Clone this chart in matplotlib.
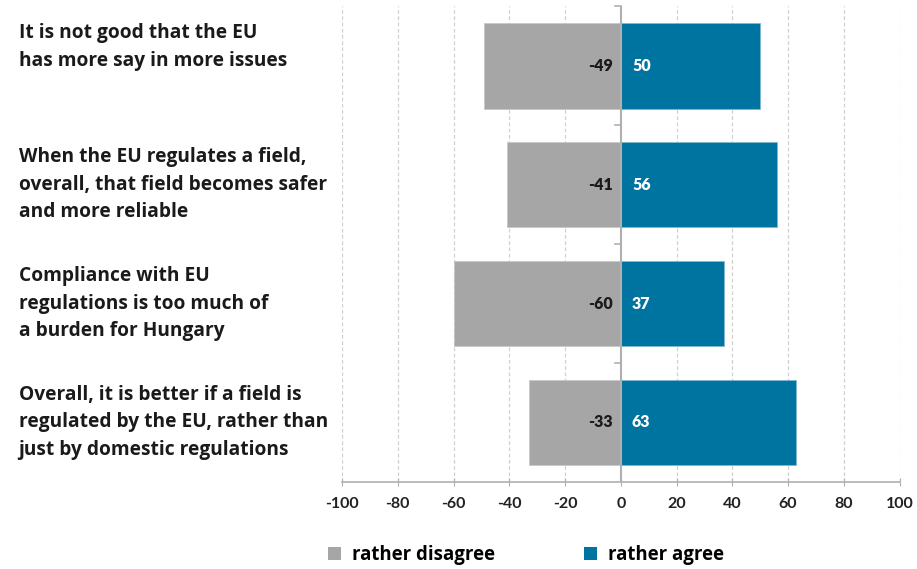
import matplotlib
matplotlib.use("Agg")
import matplotlib.pyplot as plt
from matplotlib.patches import Patch

# data
statements = [
    "It is not good that the EU\nhas more say in more issues",
    "When the EU regulates a field,\noverall, that field becomes safer\nand more reliable",
    "Compliance with EU\nregulations is too much of\na burden for Hungary",
    "Overall, it is better if a field is\nregulated by the EU, rather than\njust by domestic regulations",
]
disagree = [-49, -41, -60, -33]
agree = [50, 56, 37, 63]
xticks = list(range(-100, 101, 20))

COLOR_DIS = "#A6A6A6"
COLOR_AGR = "#0074A0"
AXIS_GREY = "#B0B0B0"
LABEL_FONT = ["Open Sans", "DejaVu Sans"]

plt.rcParams["font.family"] = ["Lato", "DejaVu Sans"]
plt.rcParams["font.weight"] = "bold"

fig = plt.figure(figsize=(9.17, 5.69), dpi=100)
ax = fig.add_axes([0.373, 0.153, 0.608, 0.836])

y = list(range(len(statements)))
ax.barh(y, disagree, height=0.72, color=COLOR_DIS, edgecolor="#C8C8C8", linewidth=0.6)
ax.barh(y, agree, height=0.72, color=COLOR_AGR, edgecolor="#7FB8D0", linewidth=0.6)

ax.set_xlim(-100, 100)
ax.set_ylim(len(statements) - 0.5, -0.5)
ax.set_xticks(xticks)
ax.set_xticklabels([str(t) for t in xticks], fontsize=11.5, fontweight="bold", color="#222")

# spines: bottom axis and a vertical axis at zero
for s in ["top", "right", "left"]:
    ax.spines[s].set_visible(False)
ax.spines["bottom"].set_color(AXIS_GREY)
ax.spines["bottom"].set_linewidth(1.2)
ax.tick_params(axis="x", direction="inout", length=6, color=AXIS_GREY, pad=8)
ax.axvline(0, color=AXIS_GREY, linewidth=1.5, zorder=3)

# small category separators on zero line
ax.set_yticks([])
for b in [-0.5, 0.5, 1.5, 2.5]:
    ax.plot([-2.2, 0], [b, b], color=AXIS_GREY, linewidth=1.2, clip_on=False, zorder=3)

# dashed vertical gridlines
for t in xticks:
    if t != 0:
        ax.axvline(t, color="#D0D0D0", linestyle=(0, (3, 2)), linewidth=0.9, zorder=0)

# value labels
for yi, d, a in zip(y, disagree, agree):
    ax.text(-3, yi, f"{d}", ha="right", va="center", fontsize=11.5,
            fontweight="heavy", color="#1a1a1a")
    ax.text(4, yi, f"{a}", ha="left", va="center", fontsize=11.5,
            fontweight="heavy", color="white")

# category labels, left aligned outside the axes
label_y = [-0.155, 1, 2, 3]
for ly, s in zip(label_y, statements):
    ax.text(-0.58, ly, s, transform=ax.get_yaxis_transform(), ha="left",
            va="center", fontsize=13.8, fontweight="bold", color="#1a1a1a",
            linespacing=1.52, family=LABEL_FONT)

handles = [Patch(facecolor=COLOR_DIS, label="rather disagree"),
           Patch(facecolor=COLOR_AGR, label="rather agree")]
fig.legend(handles=handles, loc="center left", bbox_to_anchor=(0.339, 0.025),
           ncol=2, frameon=False, handlelength=0.7, handleheight=0.7,
           handletextpad=0.6, columnspacing=4.8,
           prop={"weight": "bold", "size": 13.4, "family": LABEL_FONT})

fig.savefig("out.png", dpi=100)
